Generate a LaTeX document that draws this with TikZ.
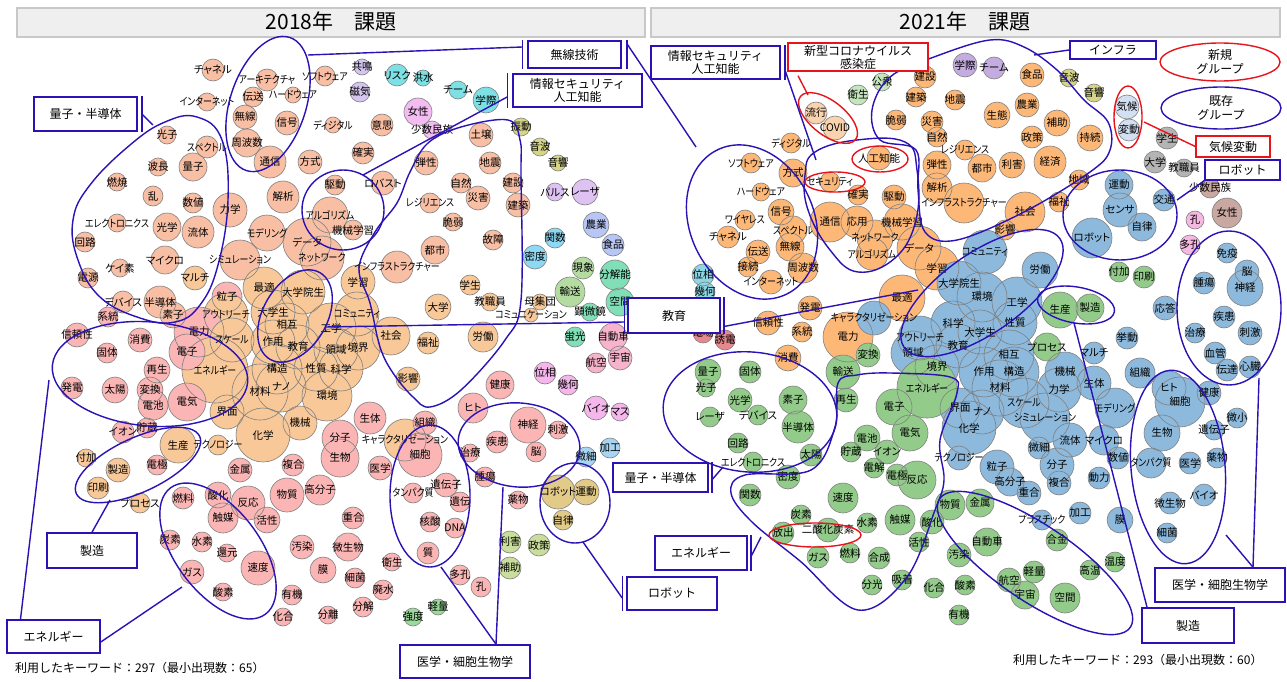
\documentclass[tikz,border=0pt]{standalone}
\usepackage{fontspec}
\setmainfont{Noto Sans CJK JP}[RawFeature=+palt]
\newfontfamily\jpfull{Noto Sans CJK JP}
\pgfdeclarelayer{edges}
\pgfsetlayers{edges,main}
\definecolor{Lsal}{HTML}{F9BFA4}
\definecolor{Lorg}{HTML}{F8C898}
\definecolor{Lpink}{HTML}{FBB5B5}
\definecolor{Llav}{HTML}{D4C6EE}
\definecolor{Lcyan}{HTML}{7DE0E4}
\definecolor{Lviolet}{HTML}{F4BDF1}
\definecolor{Lolive}{HTML}{D5D58A}
\definecolor{Lpurp}{HTML}{DEC3F2}
\definecolor{Lblue}{HTML}{B8C6F5}
\definecolor{Lsky}{HTML}{8DD8F2}
\definecolor{Lgrn}{HTML}{B5DCA0}
\definecolor{Lmint}{HTML}{80DFB6}
\definecolor{Lrose}{HTML}{F7B3CB}
\definecolor{Lmag}{HTML}{F5B6EC}
\definecolor{Lltb}{HTML}{A8D6F2}
\definecolor{Lgold}{HTML}{E2CA89}
\definecolor{Lyg}{HTML}{C9DD9C}
\definecolor{Lgrn2}{HTML}{9CDA9B}
\definecolor{Rorg}{HTML}{FDB878}
\definecolor{Rblue}{HTML}{8DB9DC}
\definecolor{Rgrn}{HTML}{93CC8A}
\definecolor{Rgray}{HTML}{B4B4B4}
\definecolor{Rbrown}{HTML}{C8A8A1}
\definecolor{Rpink}{HTML}{F5B8E2}
\definecolor{Rpurp}{HTML}{C4ACE0}
\definecolor{Rolive}{HTML}{D5D58A}
\definecolor{Rice}{HTML}{D3E0F2}
\definecolor{Rlgrn}{HTML}{C5E6BD}
\definecolor{Rcyan}{HTML}{8DD6E4}
\definecolor{Rred}{HTML}{E5898F}
\definecolor{Rpeach}{HTML}{F9D2AE}
\definecolor{grpblue}{HTML}{2A12B5}
\definecolor{grpred}{HTML}{E8141C}
\definecolor{barfill}{HTML}{EFEFEF}
\definecolor{barline}{HTML}{C8C8C8}
\tikzset{
  bubble/.style={circle, inner sep=0pt, outer sep=0pt},
  bline/.style={draw=black!50, line width=0.6pt},
  lbl/.style={inner sep=0pt, font=\fontsize{10.5}{11}\selectfont},
  edge/.style={draw=black!40, line width=0.5pt},
  dedge/.style={draw=black!40, line width=0.6pt, dotted},
  grp/.style={draw=grpblue, line width=1.4pt},
  grpr/.style={draw=grpred, line width=1.4pt},
  tagbox/.style={draw=grpblue, line width=1.6pt, fill=white, inner sep=0pt, font=\jpfull\fontsize{12}{13.5}\selectfont, align=center},
  redbox/.style={draw=grpred, line width=1.4pt, fill=white, inner sep=0pt, font=\jpfull\fontsize{12}{13}\selectfont, align=center},
  legtext/.style={font=\jpfull\fontsize{12}{14}\selectfont, align=center, inner sep=0pt},
  bar/.style={draw=barline, fill=barfill, line width=1.2pt},
  titletext/.style={font=\jpfull\fontsize{21}{22}\selectfont, inner sep=0pt},
  foot/.style={font=\jpfull\fontsize{12}{12}\selectfont, inner sep=0pt, anchor=west}
}
\newcommand{\kn}[1]{\scalebox{0.85}[1]{#1}}
\newcommand{\grpell}[6]{%
  \draw[#6, rotate around={#5:(#1,#2)}] (#1,#2) ellipse [x radius=#3pt, y radius=#4pt];}
\newcommand{\passfill}[1]{\foreach \n/\x/\y/\r/\c/\t in #1 {\node[bubble, fill=\c, minimum size={2*\r*1pt}] (\n) at (\x,\y) {};}}
\newcommand{\passline}[1]{\foreach \n/\x/\y/\r/\c/\t in #1 {\draw[bline] (\n.center) circle[radius=\r*1pt];}}
\newcommand{\passtext}[1]{\foreach \n/\x/\y/\r/\c/\t in #1 {\node[lbl] at (\n.center) {\t};}}
% ---------- node data: name/x/y/r/colour/label ----------
\def\NodesA{Lchannel/213/70/11/Lsal/チャネル, Larch/267/80/11/Lsal/\kn{アーキテクチャ}, Lsoft/325/76/10/Lsal/\kn{ソフトウェア}, Linet/207/102/9/Lsal/\kn{インターネット}, Ltrans/253/97/10/Lsal/伝送, Lhard/293/95/8/Lsal/\kn{ハードウェア}, Lmusen/245/117/12/Lsal/無線, Lsig/287/123/12/Lsal/信号, Lfreq/247/143/14/Lsal/周波数, Lcomm/270/162/16/Lsal/通信, Ldig/333/125/8/Lsal/\kn{ディジタル}, Lishi/382/125/11/Lsal/意思, Lkaku/363/153/11/Lsal/確実, Lhoshiki/310/162/12/Lsal/方式, Lkyo/362/67/8/Llav/共鳴, Ljiki/360/92/10/Llav/磁気, Lrisk/397/75/11/Lcyan/リスク, Lflood/423/78/8/Lcyan/洪水, Lteam/458/90/9/Lcyan/チーム, Lgakusai/486/100/13/Lcyan/学際, Lwoman/418/112/14/Lviolet/女性, Lminor/432/130/9/Lviolet/少数民族, Lshin/521/127/9/Lolive/振動, Lonpa/540/147/9/Lolive/音波, Lonkyo/558/163/8/Lolive/音響,
Lkoushi/167/135/9/Lsal/光子, Lspec/207/147/11/Lsal/\kn{スペクトル}, Lharyo/158/167/9/Lsal/波長, Lryoshi/193/167/14/Lsal/量子, Lnensho/117/182/9/Lsal/燃焼, Lran/153/196/10/Lsal/乱, Lsuchi/193/203/10/Lsal/数値, Lrikigaku/230/210/17/Lsal/力学, Lelec/117/223/9/Lsal/\kn{エレクトロニクス}, Lkogaku/167/227/14/Lsal/光学, Lryutai/198/232/16/Lsal/流体, Lkairo/85/242/10/Lsal/回路, Lmicro/165/260/14/Lsal/マイクロ, Lkeiso/120/268/9/Lsal/ケイ素, Ldengen/88/278/10/Lsal/電源, Lmulti/195/278/12/Lorg/マルチ, Ldevice/123/302/11/Lsal/デバイス, Lsemi/160/302/16/Lsal/半導体,
Lkaiseki/283/197/16/Lsal/解析, Lkudo/335/185/10/Lsal/駆動, Lrobust/383/183/12/Lsal/ロバスト, Lalgo/330/215/18/Lsal/\kn{アルゴリズム}, Lml/353/230/10/Lsal/機械学習, Lmodel/267/233/18/Lsal/\kn{モデリング}, Ldata/307/242/24/Lsal/データ, Lnet/322/258/22/Lsal/\kn{ネットワーク}, Lsim/240/260/20/Lsal/\kn{シミュレーション},
Ldanse/426/163/12/Lsal/弾性, Ldojo/481/135/12/Lsal/土壌, Ljishin/490/163/11/Lsal/地震, Lshizen/461/183/10/Lsal/自然, Lkensetsu/513/183/10/Lsal/建設, Lresil/430/203/10/Lsal/\kn{レジリエンス}, Lsaigai/478/198/12/Lsal/災害, Lkenchiku/518/205/12/Lsal/建築, Lzeijaku/453/222/9/Lsal/脆弱, Lkosho/493/240/10/Lsal/故障, Ltoshi/435/250/14/Lsal/都市, Linfra/397/267/16/Lsal/\kn{インフラストラクチャー},
Lpulse/555/192/9/Lpurp/パルス, Llaser/585/192/13/Lpurp/レーザ, Lnogyo/596/225/13/Lblue/農業, Lshokuhin/613/245/11/Lblue/食品, Lkansu/555/238/10/Lsky/関数, Lmitsudo/535/257/12/Lsky/密度, Lgensho/583/268/11/Lgrn/現象, Lyuso/570/292/15/Lgrn/輸送, Lbunkai/615/275/15/Lmint/分解能, Lkukan/620/302/14/Lmint/空間, Lkenbi/590/312/9/Lmint/顕微鏡, Lkeiko/575/337/10/Lmint/蛍光, Ljidosha/613/337/14/Lrose/自動車, Lkoku/596/363/10/Lrose/航空, Luchu/620/358/12/Lrose/宇宙, Lisou/545/373/11/Lmag/位相, Lkika/568/385/10/Lmag/幾何, Lbio/596/408/12/Lmag/バイオ, Lmass/620/412/9/Lmag/マス, Lbisai/586/457/10/Lltb/微細, Lkako/610/448/10/Lltb/加工, Lrobot/558/492/17/Lgold/ロボット, Lundo/586/492/13/Lgold/運動, Ljiritsu/563/520/10/Lgold/自律, Lrigai/510/542/11/Lyg/利害, Lseisaku/539/545/11/Lyg/政策, Lhojo/510/568/11/Lyg/補助, Lkyodo/413/617/9/Lgrn2/強度, Lkeiryo/438/607/8/Lgrn2/軽量,
Lgakusei/470/285/10/Lorg/学生, Ldaigaku/438/307/13/Lorg/大学, Lkyoshoku/490/302/9/Lorg/教職員, Lboshu/540/302/8/Lorg/母集団, Lcommu/531/315/7/Lorg/\kn{コミュニケーション}, Lrodo/483/337/15/Lorg/労働, Lfukushi/428/343/11/Lorg/福祉, Lgakushu/358/282/17/Lorg/学習, Lsaiteki/264/288/21/Lorg/最適, Lgrad/303/292/22/Lorg/大学院生, Lryushi/227/297/15/Lpink/粒子, Lsoshi/173/315/13/Lsal/素子, Loutreach/226/315/22/Lorg/\kn{アウトリーチ}, Lundergrad/273/312/22/Lorg/大学生, Lcommunity/357/314/22/Lorg/\kn{コミュニティ}, Lsogo/287/325/22/Lorg/相互, Lkogaku2/331/328/25/Lorg/工学, Lshakai/391/336/19/Lorg/社会, Ldenryoku/199/332/25/Lpink/電力, Lscale/232/340/22/Lorg/\kn{スケール}, Lsayo/273/342/22/Lorg/作用, Lkyoiku/298/347/22/Lorg/教育, Lryoiki/336/350/22/Lorg/領域, Lkyokai/358/348/22/Lorg/境界, Lenergy/215/370/33/Lorg/\kn{エネルギー}, Lkozo/277/369/25/Lorg/構造, Lseishitsu/316/369/22/Lorg/性質, Lkagaku/341/369/22/Lorg/科学, Lzairyo/260/392/28/Lorg/材料, Lnano/281/387/25/Lorg/ナノ, Lkankyo/327/396/25/Lorg/環境, Leikyo/408/379/12/Lorg/影響, Lkaimen/227/412/17/Lorg/界面, Lkikai/300/423/17/Lorg/機械, Lkagaku2/263/435/27/Lorg/化学, Lseisan/178/445/18/Lorg/生産, Ltech/218/445/10/Lorg/\kn{テクノロジー}, Lchar/405/440/21/Lorg/\kn{キャラクタリゼーション}, Lfuka/86/458/9/Lorg/付加, Lseizo/118/470/12/Lorg/製造, Linsatsu/98/488/11/Lorg/印刷, Lprocess/140/503/10/Lorg/プロセス}
\def\NodesB{Lkeito/108/317/10/Lpink/系統, Lshinrai/77/335/12/Lpink/信頼性, Lshohi/140/340/12/Lpink/消費, Lkotai/107/353/10/Lpink/固体, Ldenshi/187/352/18/Lpink/電子, Lsaisei/157/370/13/Lpink/再生, Lhatsuden/72/388/11/Lpink/発電, Ltaiyo/115/390/13/Lpink/太陽, Lhenkan/150/390/13/Lpink/変換, Ldenchi/153/405/15/Lpink/電池, Ldenki/187/402/19/Lpink/電気, Lseitai/370/418/16/Lpink/生体, Lsoshiki/425/423/12/Lpink/組織, Lion/123/432/11/Lpink/イオン, Lchozo/147/428/10/Lpink/貯蔵, Lbunshi/340/438/18/Lpink/分子, Lseibutsu/340/458/19/Lpink/生物, Lsaibo/420/455/22/Lpink/細胞, Ldenkyoku/157/465/10/Lpink/電極, Lkinzoku/240/470/12/Lpink/金属, Lfukugo/293/465/11/Lpink/複合, Ligaku/380/468/12/Lpink/医学, Lnenryo/183/498/11/Lpink/燃料, Lsanka/218/495/13/Lpink/酸化, Lhanno/248/503/17/Lpink/反応, Lbusshitsu/287/495/17/Lpink/物質, Lkobunshi/320/490/15/Lpink/高分子, Ltanpaku/413/493/10/Lpink/\kn{タンパク質}, Lshokubai/223/518/15/Lpink/触媒, Lkassei/267/520/13/Lpink/活性, Ljugo/353/518/11/Lpink/重合, Ltanso/170/540/10/Lpink/炭素, Lsuiso/202/542/10/Lpink/水素, Lkangen/227/553/9/Lpink/還元, Losen/302/547/12/Lpink/汚染, Lbiseibutsu/348/547/14/Lpink/微生物, Leisei/392/562/9/Lpink/衛生, Lgas/192/572/12/Lpink/ガス, Lsokudo/258/568/17/Lpink/速度, Lmaku/323/570/13/Lpink/膜, Lsaikin/355/578/10/Lpink/細菌, Lhaisui/383/590/10/Lpink/廃水, Lsanso/223/592/9/Lpink/酸素, Lyuki/292/595/10/Lpink/有機, Lbunkai2/363/607/10/Lpink/分解, Lkago/283/617/9/Lpink/化合, Lbunri/328/615/9/Lpink/分離, Lkenko/500/385/14/Lpink/健康, Lhito/473/408/15/Lpink/ヒト, Lshinkei/528/425/18/Lpink/神経, Lshigeki/558/430/9/Lpink/刺激, Lshikkan/497/442/11/Lpink/疾患, Lnou/536/452/10/Lpink/脳, Lchiryo/470/453/9/Lpink/治療, Lshuyo/485/477/10/Lpink/腫瘍, Lidenshi/446/485/12/Lpink/遺伝子, Liden/460/502/10/Lpink/遺伝, Lyakubutsu/518/500/9/Lpink/薬物, Lkakusan/430/522/10/Lpink/核酸, Ldna/455/528/10/Lpink/DNA, Lshitsu/428/553/11/Lpink/質, Ltako/460/575/10/Lpink/多孔, Lana/481/587/10/Lpink/孔}
\def\NodesC{Rryuko/816/113/11/Rpeach/流行, Rcovid/835/128/12/Rpeach/COVID, Reisei/858/95/10/Rlgrn/衛生, Rkoshu/882/82/9/Rlgrn/公衆, Rgakusai/965/65/12/Rpurp/学際, Rteam/994/68/11/Rpurp/チーム, Ronpa/1069/78/9/Rolive/音波, Ronkyo/1094/93/9/Rolive/音響, Rkiko/1127/107/12/Rice/気候, Rhendo/1129/130/11/Rice/変動, Rgakusei/1167/138/11/Rgray/学生, Rdaigaku/1155/162/11/Rgray/大学, Rkyoshoku/1184/168/9/Rgray/教職員, Rminor/1210/188/10/Rbrown/少数民族, Rwoman/1227/213/15/Rbrown/女性, Rana/1195/220/9/Rpink/孔, Rtako/1190/245/10/Rpink/多孔, Risou/703/275/11/Rcyan/位相, Rkika/705/292/10/Rcyan/幾何, Rdenba/703/333/10/Rred/電場, Ryuden/725/340/10/Rred/誘電,
Rkensetsu/925/77/11/Rorg/建設, Rshokuhin/1032/75/12/Rorg/食品, Rkenchiku/916/97/10/Rorg/建築, Rjishin/955/100/10/Rorg/地震, Rnogyo/1027/105/12/Rorg/農業, Rzeijaku/896/120/10/Rorg/脆弱, Rsaigai/932/122/11/Rorg/災害, Rseitai/997/115/13/Rorg/生態, Rhojo/1057/123/13/Rorg/補助, Rshizen/937/137/10/Rorg/自然, Rseisaku/1032/137/11/Rorg/政策, Rjizoku/1090/138/13/Rorg/持続, Rresil/965/150/10/Rorg/\kn{レジリエンス}, Rdansei/937/165/14/Rorg/弾性, Rtoshi/982/168/14/Rorg/都市, Rrigai/1012/165/13/Rorg/利害, Rkeizai/1050/162/16/Rorg/経済, Rdigital/791/143/10/Rorg/\kn{ディジタル}, Rsoft/751/163/10/Rorg/\kn{ソフトウェア}, Rhoshiki/793/173/14/Rorg/方式, Rsecurity/830/182/10/Rorg/\kn{セキュリティ}, Rai/879/158/12/Rorg/人工知能, Rkakujitsu/858/195/10/Rorg/確実, Rkudo/894/197/12/Rorg/駆動, Rkaiseki/937/188/15/Rorg/解析, Rinfra/964/203/20/Rorg/\kn{インフラストラクチャー}, Rshakai/1025/212/20/Rorg/社会, Rfukushi/1059/202/10/Rorg/福祉, Rchiiki/1079/180/10/Rorg/地域, Reikyo/1005/230/10/Rorg/影響, Rhard/761/192/9/Rorg/\kn{ハードウェア}, Rshingo/781/212/13/Rorg/信号, Rtsushin/830/222/20/Rorg/通信, Royo/857/222/16/Rorg/応用, Rml/902/222/18/Rorg/機械学習, Rwireless/745/220/10/Rorg/\kn{ワイヤレス}, Rspec/793/230/14/Rorg/\kn{スペクトル}, Rchannel/728/237/11/Rorg/チャネル, Rnetwork/875/238/18/Rorg/\kn{ネットワーク}, Rdenso/758/252/12/Rorg/伝送, Rmusen/790/247/14/Rorg/無線, Ralgo/872/254/16/Rorg/\kn{アルゴリズム}, Rdata/919/248/22/Rorg/データ, Rfreq/803/268/15/Rorg/周波数, Rsetsuzoku/748/267/10/Rorg/接続, Rinet/771/282/12/Rorg/\kn{インターネット}, Rgakushu/937/268/22/Rorg/学習, Rsaiteki/902/298/23/Rorg/最適, Rhatsuden/810/308/12/Rorg/発電, Rshinrai/768/323/12/Rorg/信頼性, Rkeito/802/332/10/Rorg/系統, Rdenryoku/848/337/25/Rorg/電力, Rshohi/788/358/13/Rorg/消費}
\def\NodesD{Rundo/1119/185/14/Rblue/運動, Rsensor/1120/210/17/Rblue/センサ, Rkotsu/1164/200/11/Rblue/交通, Rjiritsu/1142/227/14/Rblue/自律, Rrobot/1092/238/20/Rblue/ロボット, Rcommunity/985/252/22/Rblue/\kn{コミュニティ}, Rrodo/1040/270/18/Rblue/労働, Rmeneki/1227/253/10/Rblue/免疫, Rnou/1247/272/12/Rblue/脳, Rshinkei/1245/288/18/Rblue/神経, Rshuyo/1204/283/11/Rblue/腫瘍, Rgrad/959/283/22/Rblue/大学院生, Rkankyo/982/297/25/Rblue/環境, Rkogaku/1017/302/25/Rblue/工学, Rotou/1165/308/12/Rblue/応答, Rshikkan/1224/317/11/Rblue/疾患, Rshigeki/1250/333/12/Rblue/刺激, Rchiryo/1195/333/10/Rblue/治療, Rchar/874/318/17/Rblue/\kn{キャラクタリゼーション}, Rkagaku/953/323/22/Rblue/科学, Rundergrad/980/332/22/Rblue/大学生, Rseishitsu/1015/323/22/Rblue/性質, Routreach/920/338/22/Rblue/\kn{アウトリーチ}, Rkyodo/1127/338/11/Rblue/挙動, Rkyoiku/958/346/22/Rblue/教育, Rryoiki/913/353/22/Rblue/領域, Rkyokai/937/367/22/Rblue/境界, Rsogo/1009/355/25/Rblue/相互, Rmulti/1094/353/11/Rblue/マルチ, Rkekkan/1215/353/11/Rblue/血管, Rsayo/984/372/25/Rblue/作用, Rkozo/1014/372/25/Rblue/構造, Rkikai/1065/372/20/Rblue/機械, Rsoshiki/1140/373/15/Rblue/組織, Rdentatsu/1227/370/11/Rblue/伝達, Rshinzo/1250/367/11/Rblue/心臓, Rzairyo/1000/388/28/Rblue/材料, Rrikigaku/1059/390/22/Rblue/力学, Rseitai2/1094/383/17/Rblue/生体, Rhito/1169/388/17/Rblue/ヒト, Rsaibo/1180/402/25/Rblue/細胞, Rkenko/1209/393/12/Rblue/健康, Rkaimen/960/408/20/Rblue/界面, Rnano/982/412/22/Rblue/ナノ, Rscale/1024/403/25/Rblue/\kn{スケール}, Rmodel/1115/408/20/Rblue/\kn{モデリング}, Rbisho/1237/418/10/Rblue/微小, Rsim/1045/418/25/Rblue/\kn{シミュレーション}, Rkagaku2/969/428/27/Rblue/化学, Rseibutsu/1162/433/18/Rblue/生物, Ridenshi/1214/430/10/Rblue/遺伝子, Rryutai/1070/440/17/Rblue/流体, Rmicro/1104/440/15/Rblue/マイクロ, Rbisai/1039/448/11/Rblue/微細, Rsuchi/1118/458/11/Rblue/数値, Rtech/959/458/12/Rblue/\kn{テクノロジー}, Rtanpaku/1151/463/15/Rblue/\kn{タンパク質}, Rigaku/1190/463/11/Rblue/医学, Ryakubutsu/1217/458/10/Rblue/薬物, Rryushi/997/467/17/Rblue/粒子, Rbunshi/1057/465/17/Rblue/分子, Rdoryoku/1099/478/11/Rblue/動力, Rkobunshi/1010/482/14/Rblue/高分子, Rfukugo/1059/483/12/Rblue/複合, Rjugo/1029/493/12/Rblue/重合, Rbio/1204/495/11/Rblue/バイオ, Rbiseibutsu/1170/503/11/Rblue/微生物, Rkako/1080/513/11/Rblue/加工, Rmaku/1120/520/13/Rblue/膜, Rplastic/1042/520/10/Rblue/\kn{プラスチック}, Rsaikin/1167/533/10/Rblue/細菌}
\def\NodesE{Rseisan/1060/310/18/Rgrn/生産, Rseizo/1090/308/14/Rgrn/製造, Rfuka/1119/272/10/Rgrn/付加, Rinsatsu/1144/277/11/Rgrn/印刷, Rprocess/1047/347/14/Rgrn/プロセス, Rhenkan/868/355/12/Rgrn/変換, Renergy/927/388/30/Rgrn/\kn{エネルギー}, Rdenshi/894/407/18/Rgrn/電子, Rdenki/910/433/18/Rgrn/電気, Rdenchi/867/438/13/Rgrn/電池, Rion/887/452/12/Rgrn/イオン, Rdenkai/874/468/10/Rgrn/電解, Rdenkyoku/897/475/11/Rgrn/電極, Rhanno/917/480/19/Rgrn/反応, Rbusshitsu/950/505/15/Rgrn/物質, Rkinzoku/980/503/14/Rgrn/金属, Rsuiso/867/523/10/Rgrn/水素, Rshokubai/900/520/15/Rgrn/触媒, Rsanka/932/522/12/Rgrn/酸化, Rgokin/1057/540/11/Rgrn/合金, Rjidosha/987/542/14/Rgrn/自動車, Rkassei/919/542/10/Rgrn/活性, Rgosei/879/558/11/Rgrn/合成, Rosen/959/555/12/Rgrn/汚染, Rondo/1115/562/10/Rgrn/温度, Rkoon/1090/570/10/Rgrn/高温, Rkeiryo/1034/572/11/Rgrn/軽量, Rkoku/1009/580/12/Rgrn/航空, Rbunko/872/585/10/Rgrn/分光, Rkyuchaku/902/580/10/Rgrn/吸着, Rkago/934/588/10/Rgrn/化合, Rsanso/965/585/10/Rgrn/酸素, Ruchu/1025/595/14/Rgrn/宇宙, Rkukan/1065/598/15/Rgrn/空間, Ryuki/959/615/10/Rgrn/有機, Rryoshi/708/372/13/Rgrn/量子, Rkotai/750/372/11/Rgrn/固体, Rkoushi/706/388/9/Rgrn/光子, Rkogakuopt/740/400/12/Rgrn/光学, Rsoshi/793/400/14/Rgrn/素子, Rlaser/710/417/10/Rgrn/レーザ, Rdevice/758/415/10/Rgrn/デバイス, Rsemi/798/427/16/Rgrn/半導体, Rkairo/738/443/10/Rgrn/回路, Relec/753/462/10/Rgrn/\kn{エレクトロニクス}, Rtaiyo/811/455/11/Rgrn/太陽, Rmitsudo/788/477/12/Rgrn/密度, Rkansu/750/495/11/Rgrn/関数, Rsokudo/843/498/15/Rgrn/速度, Ryuso/843/372/17/Rgrn/輸送, Rsaisei/846/400/12/Rgrn/再生, Rchozo/851/452/10/Rgrn/貯蔵, Rtanso/801/515/10/Rgrn/炭素, Rhoshutsu/783/533/11/Rgrn/放出, Rco2/828/530/12/Rgrn/二酸化炭素, Rgas/818/557/11/Rgrn/ガス, Rnenryo/850/553/10/Rgrn/燃料}
\begin{document}
\begin{tikzpicture}[x=1pt,y=-1pt]
\useasboundingbox (0,0) rectangle (1287,682);
\fill[white] (0,0) rectangle (1287,682);
% title bars
\node[bar, minimum width=628pt, minimum height=29pt, inner sep=0pt] (barL) at (331,22.5) {};
\node[bar, minimum width=629pt, minimum height=29pt, inner sep=0pt] (barR) at (965.5,22.5) {};
\node[titletext] (ttlL) at (331,22) {2018年　課題};
\node[titletext] (ttlR) at (965,22) {2021年　課題};
% pass 1: fills (named nodes)
\passfill{\NodesA}
\passfill{\NodesB}
\passfill{\NodesC}
\passfill{\NodesD}
\passfill{\NodesE}
% edges behind
\begin{pgfonlayer}{edges}
\foreach \a/\b in {Lchannel/Ltrans,Linet/Lmusen,Ltrans/Lmusen,Ltrans/Larch,Lhard/Lmusen,Lhard/Ltrans,Larch/Lhard,Lmusen/Lsig,Lmusen/Lfreq,Lmusen/Lcomm,Lsig/Lcomm,Lfreq/Lcomm,Lspec/Lfreq,Lsoft/Lhard,Lmusen/Lspec,Lcomm/Lhoshiki,Ldig/Lhoshiki,Lishi/Lkaku,Lkyo/Ljiki,Lteam/Lgakusai,Lwoman/Lminor,Lshin/Lonpa,Lonpa/Lonkyo,Lryoshi/Lcomm,
Lkoushi/Lryoshi,Lspec/Lryoshi,Lharyo/Lryoshi,Lnensho/Lran,Lran/Lkogaku,Lran/Lryutai,Lsuchi/Lryutai,Lryoshi/Lkogaku,Lryoshi/Lsuchi,Lelec/Lmicro,Lkairo/Lkeiso,Lkairo/Lelec,Lkogaku/Lmicro,Lkogaku/Lryutai,Lryutai/Lrikigaku,Lryutai/Lmicro,Lmicro/Lsemi,Lkeiso/Lsemi,Ldengen/Ldevice,Ldevice/Lsemi,Lsemi/Lsoshi,Lmicro/Lmulti,Lryutai/Lsim,Lrikigaku/Lmodel,Ldengen/Lkeito,
Lkudo/Lrobust,Lkudo/Lalgo,Lrobust/Lalgo,Lalgo/Lml,Lalgo/Ldata,Lkaiseki/Ldata,Lkaiseki/Lmodel,Lmodel/Ldata,Lnet/Linfra,Lkaku/Lkaiseki,Lsim/Lmodel,
Ldanse/Lshizen,Ldojo/Ljishin,Ljishin/Lsaigai,Ljishin/Lkensetsu,Lshizen/Lsaigai,Lsaigai/Lkensetsu,Lsaigai/Lkenchiku,Lsaigai/Lresil,Lsaigai/Lzeijaku,Lzeijaku/Lresil,Lzeijaku/Ltoshi,Ltoshi/Linfra,Linfra/Lgakushu,Lresil/Linfra,Lkensetsu/Lkenchiku,
Lgakusei/Ldaigaku,Ldaigaku/Lkyoshoku,Lkyoshoku/Lboshu,Ldaigaku/Lshakai,Lrodo/Lshakai,Lfukushi/Lshakai,Lshakai/Leikyo,Lgakusei/Lrodo,
Lnogyo/Lshokuhin,Lkansu/Lmitsudo,Lgensho/Lyuso,Lbunkai/Lkukan,Lkenbi/Lkukan,Lkeiko/Lkenbi,Ljidosha/Lkoku,Ljidosha/Luchu,Lkoku/Luchu,Lisou/Lkika,Lbio/Lmass,Lbisai/Lkako,Lrobot/Lundo,Lrobot/Ljiritsu,Lrigai/Lseisaku,Lrigai/Lhojo,Lkyodo/Lkeiryo,Lpulse/Llaser,
Lshinrai/Lshohi,Lkeito/Lshohi,Lshohi/Ldenryoku,Lkotai/Ldenshi,Lhatsuden/Ltaiyo,Ltaiyo/Lhenkan,Ltaiyo/Ldenchi,Lhenkan/Ldenki,Ldenchi/Ldenki,Lsaisei/Lenergy,Lion/Lchozo,Lchozo/Ldenchi,Lion/Ldenkyoku,Ldenkyoku/Lseisan,Lseisan/Lseizo,Lseizo/Lfuka,Lseizo/Linsatsu,Lseisan/Ltech,Ldenkyoku/Lnenryo,Lseizo/Ldenkyoku,
Lsanka/Lshokubai,Lnenryo/Lshokubai,Lhanno/Lshokubai,Lhanno/Lkassei,Lshokubai/Ltanso,Lshokubai/Lsuiso,Lsuiso/Ltanso,Lsuiso/Lgas,Lsuiso/Lkangen,Lsuiso/Lsanso,Lhanno/Lsokudo,Lbusshitsu/Losen,Lbusshitsu/Lkobunshi,Lkobunshi/Ljugo,Losen/Lbiseibutsu,Losen/Lyuki,Lyuki/Lkago,Lbiseibutsu/Leisei,Lbiseibutsu/Lsaikin,Lbiseibutsu/Lhaisui,Lhaisui/Lbunkai2,Lsaikin/Lbunkai2,Lmaku/Lbunri,Lkinzoku/Lsanka,Lfukugo/Lbusshitsu,Lkagaku2/Lhanno,Lbunshi/Lseibutsu,Lseibutsu/Ligaku,Lsaibo/Ltanpaku,Lsaibo/Lidenshi,Lidenshi/Liden,Liden/Ldna,Lkakusan/Ldna,Lidenshi/Lshitsu,Lshitsu/Ltako,Ltako/Lana,Lhito/Lkenko,Lhito/Lsoshiki,Lchiryo/Lshikkan,Lshikkan/Lshinkei,Lshinkei/Lshigeki,Lshikkan/Lnou,Lchiryo/Lshuyo,Lshuyo/Lyakubutsu,Lseitai/Lsoshiki,Lseitai/Lbunshi,Lchar/Lsaibo,Lmaku/Lbusshitsu,Lkobunshi/Lbiseibutsu,Lsanka/Lnenryo,Lkagaku2/Lbusshitsu,Lprocess/Lseisan}
  \draw[edge] (\a) -- (\b);
\foreach \a/\b in {Rryuko/Rcovid,Reisei/Rkoshu,Rgakusai/Rteam,Ronpa/Ronkyo,Rkiko/Rhendo,Rgakusei/Rdaigaku,Rgakusei/Rkyoshoku,Rdaigaku/Rkyoshoku,Rminor/Rwoman,Rana/Rtako,Risou/Rkika,Rdenba/Ryuden,
Rkensetsu/Rkenchiku,Rkenchiku/Rsaigai,Rjishin/Rsaigai,Rzeijaku/Rsaigai,Rsaigai/Rshizen,Rshizen/Rresil,Rshizen/Rdansei,Rresil/Rtoshi,Rresil/Rinfra,Rshokuhin/Rnogyo,Rnogyo/Rseisaku,Rseitai/Rrigai,Rseisaku/Rrigai,Rhojo/Rrigai,Rhojo/Rkeizai,Rrigai/Rkeizai,Rjizoku/Rkeizai,Rtoshi/Rinfra,Rrigai/Rshakai,Rkaiseki/Rinfra,Rinfra/Rshakai,Rshakai/Rfukushi,Rshakai/Reikyo,Rkeizai/Rshakai,Rchiiki/Rfukushi,
Rdigital/Rhoshiki,Rsoft/Rhard,Rhard/Rshingo,Rhard/Rdenso,Rshingo/Rmusen,Rwireless/Rdenso,Rwireless/Rspec,Rchannel/Rdenso,Rchannel/Rmusen,Rspec/Rmusen,Rdenso/Rmusen,Rdenso/Rsetsuzoku,Rsetsuzoku/Rinet,Rmusen/Rfreq,Rinet/Rfreq,Rspec/Rfreq,Rmusen/Rtsushin,Rhoshiki/Rtsushin,Rsecurity/Rkakujitsu,Rkudo/Rml,Rai/Rml,Rml/Rdata,Ralgo/Rnetwork,Rtsushin/Royo,Rtsushin/Rhatsuden,Rhatsuden/Rshinrai,Rhatsuden/Rkeito,Rkeito/Rshohi,Rshinrai/Rkeito,Rsetsuzoku/Rmusen,Rwireless/Rmusen,Rchannel/Rspec,
Rundo/Rsensor,Rsensor/Rjiritsu,Rsensor/Rrobot,Rjiritsu/Rrobot,Rkotsu/Rjiritsu,Rrobot/Rrodo,Rfuka/Rseizo,Rinsatsu/Rseizo,Rseisan/Rseizo,Rmeneki/Rshuyo,Rnou/Rshinkei,Rshuyo/Rchiryo,Rshikkan/Rshinkei,Rshikkan/Rchiryo,Rshinkei/Rshigeki,Rshikkan/Rkekkan,Rkekkan/Rdentatsu,Rdentatsu/Rshinzo,Rotou/Rkyodo,Rkyodo/Rmulti,Rhito/Rsaibo,Rsaibo/Rkenko,Rsaibo/Rseibutsu,Rseibutsu/Rtanpaku,Rtanpaku/Rigaku,Rigaku/Ryakubutsu,Rtanpaku/Rbiseibutsu,Rbiseibutsu/Rsaikin,Rbio/Rtanpaku,Ridenshi/Rsaibo,Rbisho/Rsaibo,Rsoshiki/Rhito,Rmodel/Rsoshiki,Rchiryo/Rshigeki,
Rryutai/Rmicro,Rmicro/Rsuchi,Rbunshi/Rfukugo,Rkobunshi/Rjugo,Rryushi/Rkobunshi,Rbunshi/Rdoryoku,Rfukugo/Rkako,Rjugo/Rplastic,Rplastic/Rgokin,Rgokin/Rkeiryo,Rgokin/Rkoon,Rkoon/Rondo,Rgokin/Rondo,Rkeiryo/Rkoku,Rkoku/Ruchu,Ruchu/Rkukan,Rjidosha/Rkoku,Rjidosha/Rkeiryo,Rbusshitsu/Rosen,Rosen/Rsanso,Rsanka/Rkago,Rkago/Ryuki,Rshokubai/Rkassei,Rshokubai/Rsuiso,Rsuiso/Rgosei,Rgosei/Rbunko,Rshokubai/Rkyuchaku,Rsanka/Rshokubai,Rhanno/Rshokubai,Rdenkyoku/Rhanno,Rdenkai/Rdenkyoku,Rion/Rdenchi,Rdenchi/Rdenki,Rdenki/Rdenshi,Rchozo/Rdenchi,Rtaiyo/Rsemi,Rtaiyo/Rchozo,Rsoshi/Rsemi,Rsoshi/Rkogakuopt,Rkogakuopt/Rkoushi,Rkoushi/Rryoshi,Rkoushi/Rlaser,Rkotai/Rsoshi,Rkogakuopt/Rlaser,Rkairo/Rsemi,Relec/Rsemi,Rdevice/Rsemi,Rmitsudo/Rkansu,Rhoshutsu/Rco2,Rco2/Rtanso,Rco2/Rgas,Rgas/Rnenryo,Rnenryo/Rco2,Rsoshi/Rsaisei,Rsaisei/Ryuso,Rsokudo/Rhanno,Rbusshitsu/Rjidosha,Rkinzoku/Rjidosha,Rsanka/Rsuiso,Rtanso/Rshokubai,Rmitsudo/Rsemi,Rkeito/Rdenryoku,Rshohi/Rdenryoku}
  \draw[edge] (\a) -- (\b);
\foreach \a/\b in {Lsim/Lsaiteki,Linfra/Lcommunity,Lmulti/Lryushi,Ldata/Lgakushu,Lkankyo/Lseitai,Lkikai/Lbunshi,Rdata/Rcommunity,Rgakushu/Rgrad,Rtech/Rryushi,Rchar/Rhenkan,Rkagaku2/Rbisai,Rsaiteki/Rchar,Rchar/Routreach}
  \draw[dedge] (\a) -- (\b);
\end{pgfonlayer}
% pass 2: outlines
\passline{\NodesA}
\passline{\NodesB}
\passline{\NodesC}
\passline{\NodesD}
\passline{\NodesE}
% pass 3: labels
\passtext{\NodesA}
\passtext{\NodesB}
\passtext{\NodesC}
\passtext{\NodesD}
\passtext{\NodesE}
% ================= GROUP OUTLINES =================
\draw[grp] plot[smooth cycle, tension=0.7] coordinates {(197,117) (222,140) (228,200) (218,265) (200,305) (175,322) (140,318) (100,297) (78,260) (73,220) (90,185) (130,145) (165,122)};
\draw[grp] plot[smooth cycle, tension=0.6] coordinates {(428,143) (461,127) (508,120) (520,140) (521,175) (521,300) (505,340) (461,390) (430,407) (413,397) (393,373) (380,347) (370,303) (359,268) (375,232) (397,203) (410,172)};
\draw[grp] plot[smooth cycle, tension=0.7] coordinates {(808,210) (805,175) (815,152) (857,140) (905,142) (917,170) (916,220) (895,258) (858,272) (830,250)};
\draw[grp] plot[smooth cycle, tension=0.6] coordinates {(880,140) (872,110) (890,77) (934,57) (990,40) (1024,47) (1057,70) (1084,100) (1108,122) (1110,150) (1090,172) (1024,212) (957,240) (925,232) (918,190) (916,150)};
\draw[grp] plot[smooth cycle, tension=0.6] coordinates {(731,493) (745,475) (811,470) (835,427) (838,383) (857,375) (890,373) (950,377) (957,393) (940,440) (944,480) (935,510) (907,577) (858,610) (800,561) (752,522)};
\grpell{268}{104}{70}{38}{72}{grp}
\grpell{343}{210}{41}{40}{0}{grp}
\grpell{295}{316}{32}{50}{-30}{grp}
\grpell{150}{374}{98}{52}{-5}{grp}
\grpell{138}{465}{68}{27}{25}{grp}
\grpell{218}{551}{79}{42}{-53}{grp}
\grpell{430}{496}{40}{71}{0}{grp}
\grpell{519}{445}{61}{42}{-5}{grp}
\grpell{575}{503}{35}{40}{0}{grp}
\grpell{752}{222}{62}{80}{25}{grp}
\grpell{1120}{215}{57}{45}{0}{grp}
\grpell{982}{293}{95}{40}{35}{grp}
\grpell{1076}{305}{39}{18}{-10}{grp}
\grpell{1229}{308}{52}{77}{0}{grp}
\grpell{1178}{467}{47}{97}{5}{grp}
\grpell{1035}{563}{115}{38}{-34}{grp}
\grpell{750}{412}{87}{60}{-5}{grp}
\grpell{828}{118}{35}{17}{-38}{grpr}
\grpell{835}{182}{30}{10}{0}{grpr}
\grpell{880}{159}{28}{13}{0}{grpr}
\grpell{1128}{117}{14}{31}{0}{grpr}
\grpell{815}{535}{46}{12}{0}{grpr}
% ================= TAG BOXES =================
\node[tagbox, minimum width=103pt, minimum height=34pt] (bQL) at (85.5,114) {量子・半導体};
\node[tagbox, minimum width=93pt, minimum height=27pt] (bMusen) at (574.5,54.5) {無線技術};
\node[tagbox, minimum width=129pt, minimum height=33pt] (bInfoL) at (577.5,90.5) {情報セキュリティ\\人工知能};
\node[tagbox, minimum width=92pt, minimum height=35pt] (bEdu) at (674,315.5) {教育};
\node[tagbox, minimum width=90pt, minimum height=35pt] (bSeizoL) at (92,550.5) {製造};
\node[tagbox, minimum width=93pt, minimum height=33pt] (bEnergyL) at (53.5,636.5) {エネルギー};
\node[tagbox, minimum width=130pt, minimum height=33pt] (bMedL) at (465,661.5) {医学・細胞生物学};
\node[tagbox, minimum width=90pt, minimum height=33pt] (bRobotL) at (672,593.5) {ロボット};
\node[tagbox, minimum width=129pt, minimum height=33pt] (bInfoR) at (715.5,62.5) {情報セキュリティ\\人工知能};
\node[tagbox, minimum width=86pt, minimum height=18pt] (bInfra) at (1113,50) {インフラ};
\node[tagbox, minimum width=95pt, minimum height=29pt] (bQM) at (660.5,477.5) {量子・半導体};
\node[tagbox, minimum width=92pt, minimum height=34pt] (bEnergyM) at (701,553) {エネルギー};
\node[tagbox, minimum width=75pt, minimum height=20pt] (bRobotR) at (1242.5,170) {ロボット};
\node[tagbox, minimum width=130pt, minimum height=34pt] (bMedR) at (1220,585) {医学・細胞生物学};
\node[tagbox, minimum width=92pt, minimum height=35pt] (bSeizoR) at (1188,625.5) {製造};
\node[redbox, minimum width=140pt, minimum height=28pt] (bCorona) at (858,57) {新型コロナウイルス\\感染症};
\node[redbox, minimum width=74pt, minimum height=21pt] (bClimate) at (1233,146.5) {気候変動};
% legend
\coordinate (legNew) at (1220,62);
\draw[grpr] (legNew) ellipse [x radius=60pt, y radius=19pt];
\node[legtext] (legNewT) at (legNew) {新規\\グループ};
\coordinate (legOld) at (1221,108);
\draw[grp] (legOld) ellipse [x radius=60pt, y radius=21pt];
\node[legtext] (legOldT) at (legOld) {既存\\グループ};
% connector end points
\coordinate (cQL) at (153,125);
\coordinate (cMusenL) at (308,55);
\coordinate (cMusenR) at (696,147);
\coordinate (cInfoL) at (363,175);
\coordinate (cEduL) at (325,327);
\coordinate (cEduR) at (918,290);
\coordinate (cSeizoL) at (110,500);
\coordinate (cEnL1) at (49,380);
\coordinate (cEnL2) at (182,587);
\coordinate (cMedL1) at (503,487);
\coordinate (cMedL2) at (441,567);
\coordinate (cRobotL) at (583,542);
\coordinate (cInfoR) at (816,160);
\coordinate (cInfra) at (1034,55);
\coordinate (cQM) at (723,467);
\coordinate (cEnM) at (761,537);
\coordinate (cRobotR) at (1177,200);
\coordinate (cMedR1) at (1259,378);
\coordinate (cMedR2) at (1226,535);
\coordinate (cSeizoR) at (1074,323);
\coordinate (cCorona) at (808,95);
\coordinate (cClimate) at (1144,122);
% side bars of boxes
\draw[grp] ([xshift=4pt]bQL.north east) -- ([xshift=4pt]bQL.south east);
\draw[grp] ([xshift=-5pt]bMusen.north west) -- ([xshift=-5pt]bMusen.south west);
\draw[grp] ([xshift=5pt]bMusen.north east) -- ([xshift=5pt]bMusen.south east);
\draw[grp] ([xshift=-5pt]bInfoL.north west) -- ([xshift=-5pt]bInfoL.south west);
\draw[grp] ([xshift=-3pt]bEdu.north west) -- ([xshift=-3pt]bEdu.south west);
\draw[grp] ([xshift=3pt]bEdu.north east) -- ([xshift=3pt]bEdu.south east);
\draw[grp] ([xshift=-4pt]bRobotL.north west) -- ([xshift=-4pt]bRobotL.south west);
\draw[grp] ([xshift=4pt]bInfoR.north east) -- ([xshift=4pt]bInfoR.south east);
\draw[grp] ([xshift=3pt]bQM.north east) -- ([xshift=3pt]bQM.south east);
\draw[grp] ([xshift=3pt]bEnergyM.north east) -- ([xshift=3pt]bEnergyM.south east);
% connectors
\draw[grp] ([xshift=4pt]bQL.east) -- (cQL);
\draw[grp] ([xshift=-5pt,yshift=7.5pt]bMusen.west) -- (cMusenL);
\draw[grp] ([xshift=5pt,yshift=11pt]bMusen.east) -- (cMusenR);
\draw[grp] ([xshift=-5pt,yshift=-6.5pt]bInfoL.west) -- (cInfoL);
\draw[grp] ([xshift=-3pt,yshift=-6.5pt]bEdu.west) -- (cEduL);
\draw[grp] ([xshift=3pt,yshift=-11pt]bEdu.east) -- (cEduR);
\draw[grp] (bSeizoL.north) -- (cSeizoL);
\draw[grp] ([xshift=-33pt]bEnergyL.north) -- (cEnL1);
\draw[grp] ([yshift=-5.5pt]bEnergyL.east) -- (cEnL2);
\draw[grp] ([xshift=31pt]bMedL.north) -- (cMedL1);
\draw[grp] ([xshift=31pt]bMedL.north) -- (cMedL2);
\draw[grp] ([xshift=-4pt,yshift=-4.5pt]bRobotL.west) -- (cRobotL);
\draw[grp] ([xshift=4pt,yshift=-7pt]bInfoR.east) -- (cInfoR);
\draw[grp] (bInfra.west) -- (cInfra);
\draw[grp] ([xshift=3pt,yshift=-2.5pt]bQM.east) -- (cQM);
\draw[grp] ([xshift=3pt,yshift=-4pt]bEnergyM.east) -- (cEnM);
\draw[grp] (bRobotR.south west) -- (cRobotR);
\draw[grp] ([xshift=33pt]bMedR.north) -- (cMedR1);
\draw[grp] ([xshift=33pt]bMedR.north) -- (cMedR2);
\draw[grp] ([xshift=-41pt]bSeizoR.north) -- (cSeizoR);
\draw[grpr] ([xshift=-60pt,yshift=-4pt]bCorona.south) -- (cCorona);
\draw[grpr] (bClimate.west) -- (cClimate);
% footers
\node[foot] (footL) at (15,668) {利用したキーワード：297（最小出現数：65）};
\node[foot] (footR) at (1013,660) {利用したキーワード：293（最小出現数：60）};
\end{tikzpicture}
\end{document}
